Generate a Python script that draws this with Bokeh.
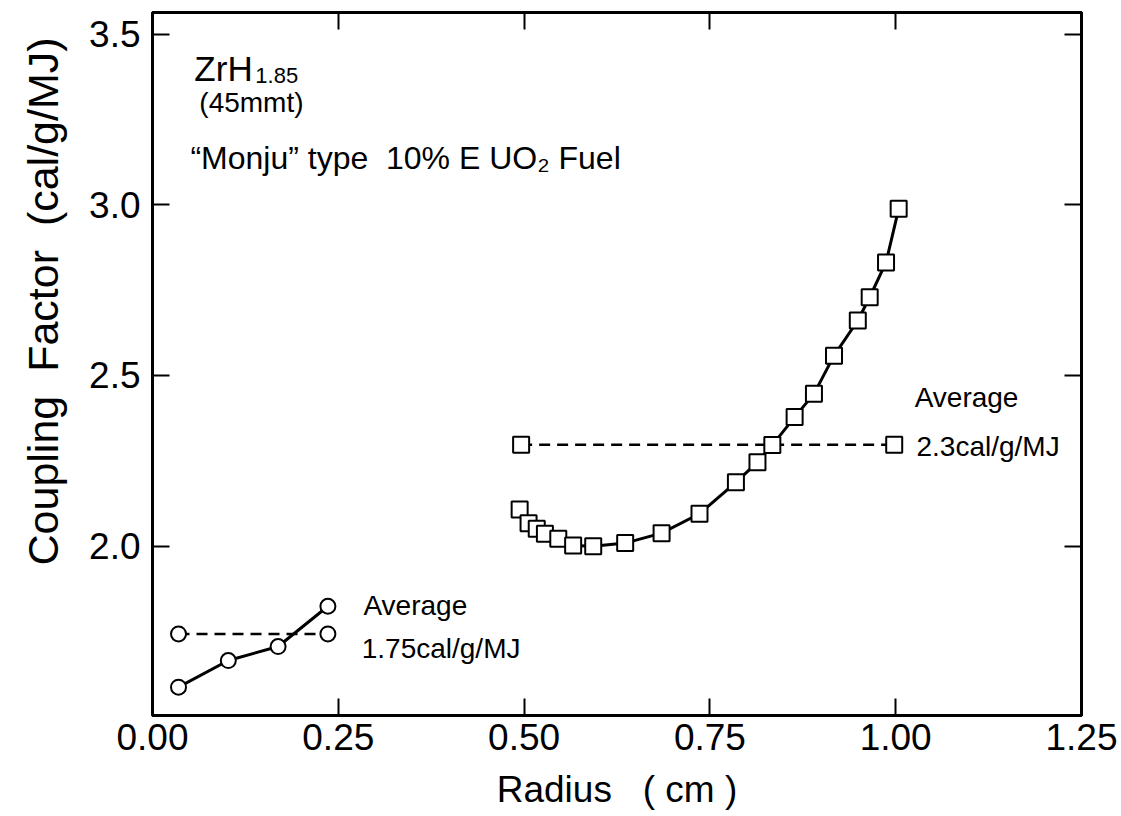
import math
from bokeh.plotting import figure
from bokeh.models import (FixedTicker, LinearAxis, Label, Range1d, Title,
                          CustomJSTickFormatter, NumeralTickFormatter, ColumnDataSource)
from bokeh.embed import file_html
from bokeh.resources import INLINE

# ---- data ----
r_zrh = [0.035, 0.102, 0.169, 0.236]
cf_zrh = [1.587, 1.665, 1.706, 1.824]
r_zrh_avg = [0.035, 0.236]
cf_zrh_avg = [1.743, 1.743]

r_fuel = [0.494, 0.506, 0.517, 0.528, 0.546, 0.566, 0.593, 0.636, 0.685, 0.736,
          0.785, 0.814, 0.834, 0.864, 0.890, 0.917, 0.949, 0.965, 0.987, 1.004]
cf_fuel = [2.107, 2.067, 2.051, 2.036, 2.022, 2.002, 2.000, 2.009, 2.038, 2.095,
           2.187, 2.246, 2.296, 2.378, 2.446, 2.558, 2.661, 2.729, 2.831, 2.988]
r_fuel_avg = [0.496, 0.998]
cf_fuel_avg = [2.297, 2.297]

x_ticks = [0.0, 0.25, 0.50, 0.75, 1.00, 1.25]
y_ticks = [2.0, 2.5, 3.0, 3.5]

FONT = "Liberation Sans"
SP = "\u00a0"

p = figure(width=1121, height=816, x_range=Range1d(0, 1.25), y_range=Range1d(1.504, 3.563),
           output_backend="svg", toolbar_location=None,
           min_border_left=150, min_border_right=40, min_border_top=12, min_border_bottom=101,
           background_fill_color="white", border_fill_color="white")
p.grid.visible = False
p.outline_line_color = "black"
p.outline_line_width = 3

def style_axis(ax, ticks, fmt, show_labels=True):
    ax.ticker = FixedTicker(ticks=ticks)
    ax.major_tick_in = 17
    ax.major_tick_out = 0
    ax.minor_tick_in = 0
    ax.minor_tick_out = 0
    ax.major_tick_line_width = 2
    ax.major_tick_line_color = "black"
    ax.axis_line_width = 3
    ax.axis_line_color = "black"
    if show_labels:
        ax.formatter = NumeralTickFormatter(format=fmt)
        ax.major_label_text_font = FONT
        ax.major_label_text_font_size = "37px"
        ax.major_label_text_color = "black"
    else:
        ax.formatter = CustomJSTickFormatter(code="return ''")
        ax.major_label_text_font_size = "0px"
        ax.major_label_standoff = 0

xa = p.xaxis[0]
style_axis(xa, x_ticks, "0.00")
xa.major_label_standoff = 8
xa.axis_label = "Radius" + SP * 3 + "(" + SP + "cm" + SP + ")"
xa.axis_label_text_font = FONT
xa.axis_label_text_font_size = "37px"
xa.axis_label_text_font_style = "normal"
xa.axis_label_text_color = "black"
xa.axis_label_standoff = 16

ya = p.yaxis[0]
style_axis(ya, y_ticks, "0.0")
ya.major_label_standoff = 12

top = LinearAxis()
style_axis(top, x_ticks, None, show_labels=False)
p.add_layout(top, "above")
right = LinearAxis()
style_axis(right, y_ticks, None, show_labels=False)
p.add_layout(right, "right")

# y-axis title, placed off-centre like the reference
p.add_layout(Title(text="Coupling" + SP * 2 + "Factor" + SP * 2 + "(cal/g/MJ)",
                   align="left", offset=150, vertical_align="top",
                   text_font=FONT, text_font_size="43px", text_font_style="normal",
                   text_color="black", standoff=36), "left")

# ---- series ----
src_zrh = ColumnDataSource(dict(x=r_zrh, y=cf_zrh))
src_zrh_avg = ColumnDataSource(dict(x=r_zrh_avg, y=cf_zrh_avg))
src_fuel = ColumnDataSource(dict(x=r_fuel, y=cf_fuel))
src_fuel_avg = ColumnDataSource(dict(x=r_fuel_avg, y=cf_fuel_avg))

p.line("x", "y", source=src_zrh_avg, line_color="black", line_width=2.5, line_dash="11 7")
p.line("x", "y", source=src_fuel_avg, line_color="black", line_width=2.5, line_dash="11 7")
p.line("x", "y", source=src_zrh, line_color="black", line_width=3)
p.line("x", "y", source=src_fuel, line_color="black", line_width=3)

p.scatter("x", "y", source=src_zrh_avg, marker="circle", size=15,
          fill_color="white", line_color="black", line_width=2)
p.scatter("x", "y", source=src_zrh, marker="circle", size=15,
          fill_color="white", line_color="black", line_width=2)
p.scatter("x", "y", source=src_fuel_avg, marker="square", size=16,
          fill_color="white", line_color="black", line_width=2)
p.scatter("x", "y", source=src_fuel, marker="square", size=16,
          fill_color="white", line_color="black", line_width=2)

# ---- texts ----
def lab(x, y, text, size, **kw):
    p.add_layout(Label(x=x, y=y, text=text, text_font=FONT, text_font_size=size,
                       text_color="black", text_baseline=kw.pop("baseline", "alphabetic"),
                       text_align=kw.pop("align", "left"), **kw))

lab(0.0563, 3.398, "ZrH", "35px")
lab(0.0563, 3.398, "1.85", "22px", x_offset=61, y_offset=-7)
lab(0.0630, 3.298, "(45mmt)", "28px")
lab(0.0510, 3.137, "\u201cMonju\u201d type" + SP * 2 + "10% E UO\u2082 Fuel", "32px")
lab(0.2838, 1.826, "Average", "28px")
lab(0.2815, 1.700, "1.75cal/g/MJ", "28px")
lab(1.0255, 2.435, "Average", "28px")
lab(1.0280, 2.292, "2.3cal/g/MJ", "28px")

open("out.html", "w").write(file_html(p, INLINE))
